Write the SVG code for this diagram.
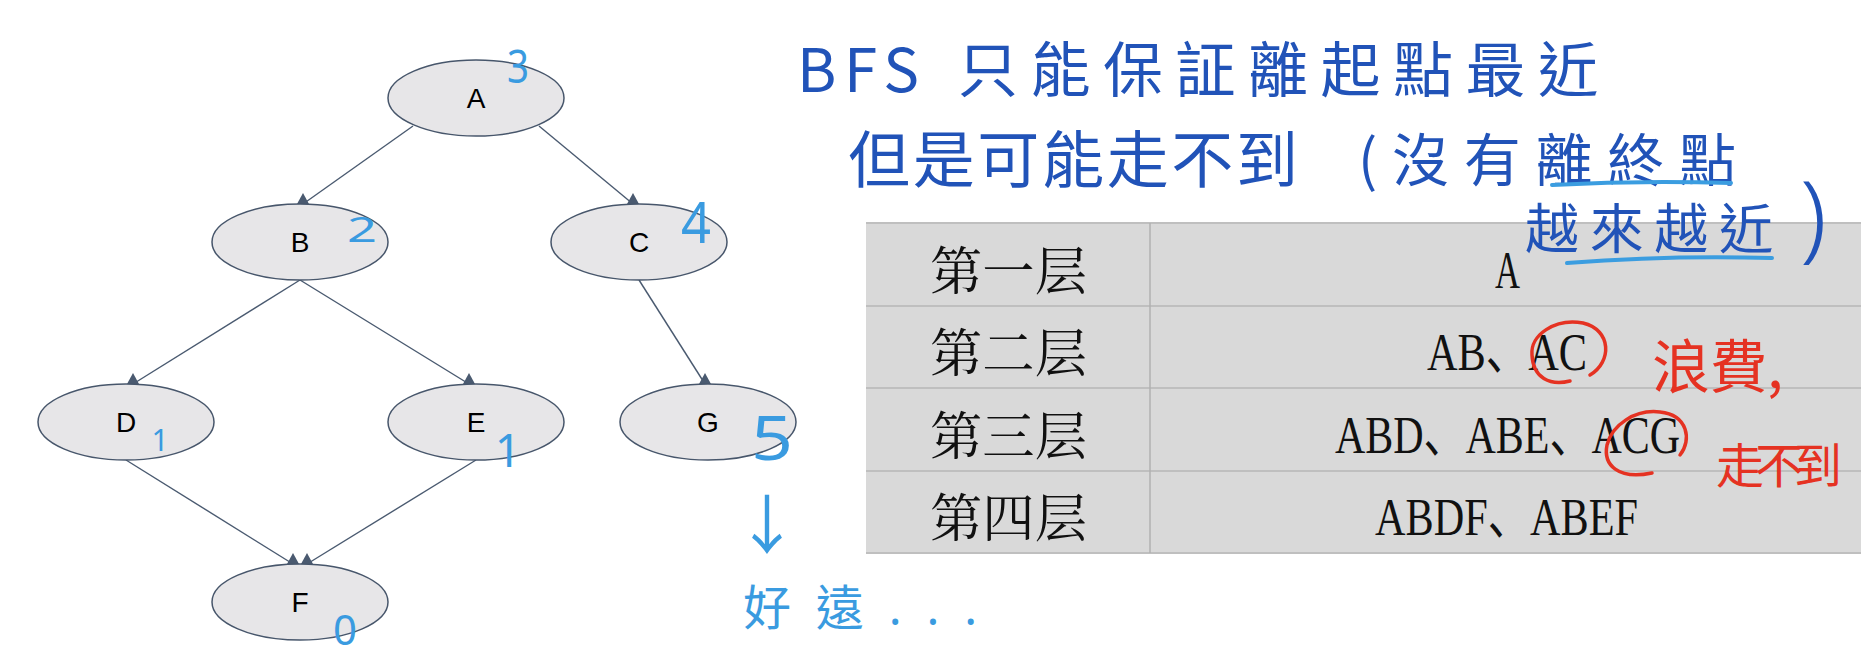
<svg xmlns="http://www.w3.org/2000/svg" width="1869" height="668" viewBox="0 0 1869 668">
<style>
.node ellipse{fill:#e7e6e8;stroke:#47566b;stroke-width:1.5}
.node text{font-family:"Liberation Sans",Arial,sans-serif;font-size:28px;fill:#000;text-anchor:middle}
.edge{stroke:#4a5a70;stroke-width:1.4;fill:none;marker-end:url(#tri)}
.grid{stroke:#bfbfbf;stroke-width:2}
.lbl{font-family:"Noto Serif CJK SC","Noto Sans CJK SC",serif;font-size:52px;fill:#111}
.path{font-family:"Liberation Serif","Noto Sans CJK SC",serif;font-size:53px;fill:#111}
.hw{font-family:"Noto Sans CJK TC","Noto Sans",sans-serif;fill:#2153b8}
.num{font-family:"Noto Sans","Noto Sans CJK TC",sans-serif;fill:#3a9be0;text-anchor:middle}
.red{font-family:"Noto Sans CJK TC",sans-serif;fill:#e53222}
.redc{fill:none;stroke:#e53222;stroke-width:3.5;stroke-linecap:round}
.ul{fill:none;stroke:#3b9de0;stroke-width:4;stroke-linecap:round}
</style>
<defs>
<marker id="tri" viewBox="0 0 12 11" markerWidth="12" markerHeight="11" refX="6" refY="11" orient="0" markerUnits="userSpaceOnUse">
<path d="M0,11 L6,0 L12,11 Z" fill="#4a5a70"/>
</marker>
</defs>
<rect width="1869" height="668" fill="#fff"/>

<g id="connectors">
<line class="edge" x1="413" y1="126" x2="303" y2="204"/>
<line class="edge" x1="539" y1="126" x2="633" y2="204"/>
<line class="edge" x1="300" y1="280" x2="133" y2="384"/>
<line class="edge" x1="300" y1="280" x2="469" y2="384"/>
<line class="edge" x1="639" y1="280" x2="705" y2="384"/>
<line class="edge" x1="126" y1="460" x2="293" y2="564"/>
<line class="edge" x1="476" y1="460" x2="307" y2="564"/>
</g>

<g id="node-A" class="node"><ellipse cx="476" cy="98" rx="88" ry="38"/><text x="476" y="108">A</text></g>
<g id="node-B" class="node"><ellipse cx="300" cy="242" rx="88" ry="38"/><text x="300" y="252">B</text></g>
<g id="node-C" class="node"><ellipse cx="639" cy="242" rx="88" ry="38"/><text x="639" y="252">C</text></g>
<g id="node-D" class="node"><ellipse cx="126" cy="422" rx="88" ry="38"/><text x="126" y="432">D</text></g>
<g id="node-E" class="node"><ellipse cx="476" cy="422" rx="88" ry="38"/><text x="476" y="432">E</text></g>
<g id="node-G" class="node"><ellipse cx="708" cy="422" rx="88" ry="38"/><text x="708" y="432">G</text></g>
<g id="node-F" class="node"><ellipse cx="300" cy="602" rx="88" ry="38"/><text x="300" y="612">F</text></g>

<g id="distances">
<text class="num" x="518" y="83" font-size="46" textLength="22" lengthAdjust="spacingAndGlyphs">3</text>
<text class="num" x="362" y="242" font-size="34" textLength="30" lengthAdjust="spacingAndGlyphs">2</text>
<text class="num" x="696" y="243" font-size="56" textLength="30" lengthAdjust="spacingAndGlyphs">4</text>
<text class="num" x="160" y="451" font-size="30">1</text>
<text class="num" x="508" y="467" font-size="46">1</text>
<text class="num" x="772" y="460" font-size="62" textLength="42" lengthAdjust="spacingAndGlyphs">5</text>
<text class="num" x="345" y="645" font-size="42" textLength="24" lengthAdjust="spacingAndGlyphs">0</text>
<text class="num" x="767" y="548" font-size="64">↓</text>
<text class="num" x="743" y="625" font-size="48" style="text-anchor:start" textLength="234" lengthAdjust="spacing">好遠...</text>
</g>

<g id="table">
<rect x="866" y="223" width="995" height="330" fill="#d9d9d9"/>
<line class="grid" x1="866" y1="223" x2="1861" y2="223" stroke-width="3"/>
<line class="grid" x1="866" y1="306" x2="1861" y2="306"/>
<line class="grid" x1="866" y1="388" x2="1861" y2="388"/>
<line class="grid" x1="866" y1="471" x2="1861" y2="471"/>
<line class="grid" x1="866" y1="553" x2="1861" y2="553" stroke-width="3"/>
<line x1="1150" y1="223" x2="1150" y2="553" stroke="#b0b0b0" stroke-width="1.5"/>
<text class="lbl" x="930" y="290" textLength="157" lengthAdjust="spacingAndGlyphs">第一层</text>
<text class="lbl" x="930" y="372" textLength="157" lengthAdjust="spacingAndGlyphs">第二层</text>
<text class="lbl" x="930" y="455" textLength="157" lengthAdjust="spacingAndGlyphs">第三层</text>
<text class="lbl" x="930" y="537" textLength="157" lengthAdjust="spacingAndGlyphs">第四层</text>
<text class="path" x="1495" y="288" textLength="25" lengthAdjust="spacingAndGlyphs">A</text>
<text class="path" x="1427" y="370" textLength="160" lengthAdjust="spacingAndGlyphs">AB、AC</text>
<text class="path" x="1335" y="453" textLength="345" lengthAdjust="spacingAndGlyphs">ABD、ABE、ACG</text>
<text class="path" x="1375" y="535" textLength="263" lengthAdjust="spacingAndGlyphs">ABDF、ABEF</text>
</g>

<g id="notes">
<text class="hw" x="797" y="92" font-size="60" textLength="122" lengthAdjust="spacing">BFS</text>
<text class="hw" x="958" y="92" font-size="60" textLength="640" lengthAdjust="spacing">只能保証離起點最近</text>
<text class="hw" x="848" y="183" font-size="62" textLength="450" lengthAdjust="spacing">但是可能走不到</text>
<text class="hw" x="1358" y="181" font-size="57" textLength="378" lengthAdjust="spacing">(沒有離終點</text>
<text class="hw" x="1525" y="249" font-size="54" textLength="248" lengthAdjust="spacing">越來越近</text>
<text class="hw" x="1800" y="250" font-size="96" font-weight="300" style="font-family:'Noto Sans',sans-serif">)</text>
<path class="ul" d="M1552,185 Q1640,180 1731,183"/>
<path class="ul" d="M1567,263 Q1670,255 1772,258"/>
<path class="redc" d="M1590,375 C1612,362 1612,330 1583,323 C1555,318 1530,335 1532,355 C1533,378 1550,386 1570,381"/>
<path class="redc" d="M1680,455 C1692,440 1688,415 1660,412 C1635,409 1612,425 1607,445 C1603,465 1618,480 1652,473"/>
<text class="red" x="1652" y="388" font-size="58" textLength="131" lengthAdjust="spacing">浪費,</text>
<text class="red" x="1716" y="483" font-size="48" textLength="126" lengthAdjust="spacing">走不到</text>
</g>
</svg>
